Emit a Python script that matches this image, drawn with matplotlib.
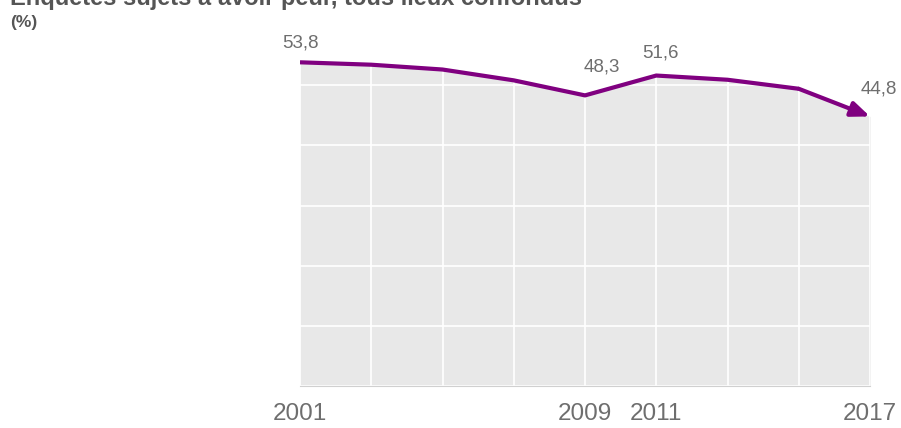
import matplotlib.pyplot as plt

plt.rcParams['font.family'] = ['Liberation Sans', 'DejaVu Sans']

# part des enquêtés sujets à avoir peur (%)
years = [2001, 2003, 2005, 2007, 2009, 2011, 2013, 2015, 2017]
values = [53.8, 53.4, 52.6, 50.8, 48.3, 51.6, 50.9, 49.4, 44.8]
shown_years = [2001, 2009, 2011, 2017]
labelled = {2001: '53,8', 2009: '48,3', 2011: '51,6', 2017: '44,8'}

purple = '#800080'
grey_txt = '#6e6e6e'

fig = plt.figure(figsize=(9.01, 4.28), dpi=100)
ax = fig.add_axes([300 / 901, 1 - 386 / 428, 570 / 901, 361 / 428])

ax.fill_between(years, values, 0, color='#e8e8e8', lw=0, zorder=1)
ax.plot(years[:-1], values[:-1], color=purple, lw=3, solid_joinstyle='round',
        solid_capstyle='butt', zorder=3)
# fleche sur le dernier segment
ax.annotate('', xy=(years[-1], values[-1]), xytext=(years[-2], values[-2]),
            arrowprops=dict(arrowstyle='-|>,head_width=0.45,head_length=1.1',
                            color=purple, lw=3, shrinkA=0, shrinkB=0),
            zorder=4)

ax.set_xlim(years[0], years[-1])
ax.set_ylim(0, 60)
ax.set_xticks(years)
ax.set_xticklabels([str(y) if y in shown_years else '' for y in years])
ax.set_yticks(range(0, 61, 10))
ax.set_yticklabels([])
ax.tick_params(length=0, labelsize=17.5, labelcolor=grey_txt, pad=12)
ax.set_axisbelow(False)
ax.grid(True, color='white', lw=1.2)

for s in ['top', 'right', 'left']:
    ax.spines[s].set_visible(False)
ax.spines['bottom'].set_color('#d0d0d0')
ax.spines['bottom'].set_zorder(5)

offsets = {2001: (-13, 8, 'left'), 2009: (12, 14, 'center'),
           2011: (3, 10, 'center'), 2017: (6, 14, 'center')}
for y, v in zip(years, values):
    if y in labelled:
        dx, dy, ha = offsets[y]
        ax.annotate(labelled[y], (y, v), xytext=(dx, dy), textcoords='offset points',
                    ha=ha, va='bottom', fontsize=13.5, color=grey_txt)

fig.text(10 / 901, 1 - 5 / 428, 'Enquêtés sujets à avoir peur, tous lieux confondus',
         fontsize=17, fontweight='bold', color='#555555', va='baseline', ha='left')
fig.text(10 / 901, 1 - 27 / 428, '(%)', fontsize=12.5, fontweight='bold',
         color='#555555', va='baseline', ha='left')

fig.savefig('out.png', dpi=100, facecolor='white')
